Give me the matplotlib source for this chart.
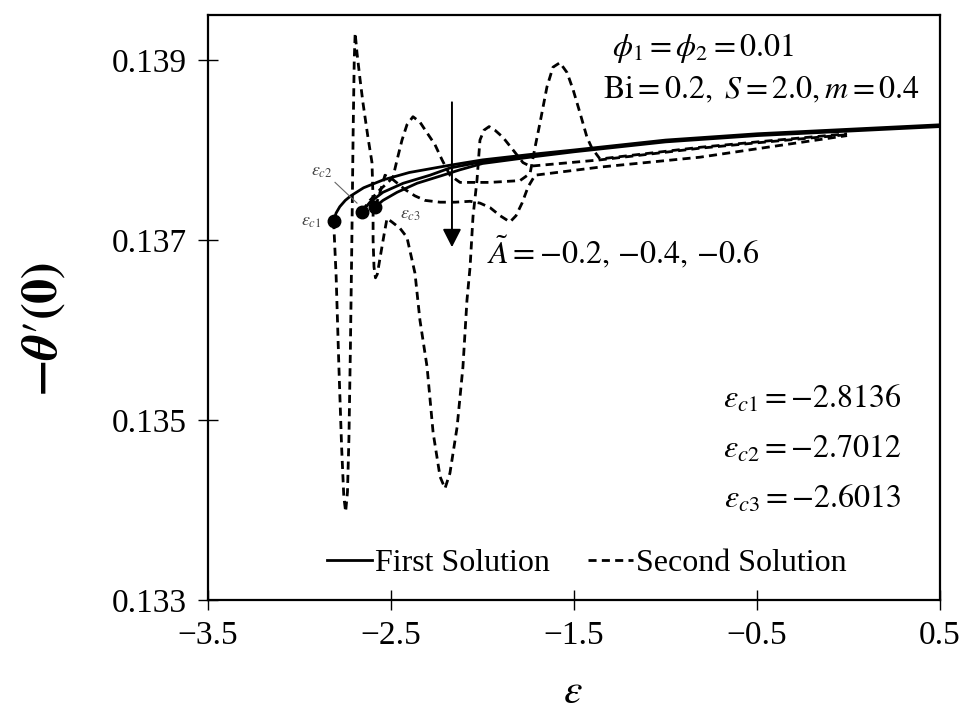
import matplotlib

matplotlib.use("Agg")
import matplotlib.pyplot as plt

plt.rcParams['font.family'] = ['Liberation Serif', 'DejaVu Serif']
plt.rcParams['mathtext.fontset'] = 'stix'

# First solution (three A~ values)
eps_first_1 = [-2.8136, -2.80, -2.78, -2.75, -2.72, -2.65, -2.54, -2.40, -2.18, -2.0, -1.74, -1.5, -1.0, -0.5, 0.0, 0.5]
theta_first_1 = [0.13721, 0.13730, 0.13737, 0.13744, 0.13749, 0.13758, 0.13767, 0.13775, 0.13783, 0.13789,
                 0.13795, 0.13800, 0.13811, 0.13818, 0.13823, 0.13828]
eps_first_2 = [-2.66, -2.615, -2.544, -2.434, -2.287, -2.178, -2.0, -1.74, -1.5, -1.0, -0.5, 0.0, 0.5]
theta_first_2 = [0.13731, 0.13742, 0.13753, 0.13763, 0.13772, 0.13780, 0.13787, 0.13794, 0.13799, 0.13810,
                 0.13817, 0.13822, 0.13827]
eps_first_3 = [-2.585, -2.544, -2.467, -2.358, -2.216, -2.123, -2.0, -1.74, -1.5, -1.0, -0.5, 0.0, 0.5]
theta_first_3 = [0.13737, 0.13744, 0.13753, 0.13763, 0.13772, 0.13778, 0.13785, 0.13792, 0.13798, 0.13809,
                 0.13816, 0.13821, 0.13826]

# Second solution (oscillating branches)
eps_second_1 = [-2.8136, -2.800, -2.785, -2.770, -2.758, -2.748, -2.738, -2.730, -2.722, -2.714, -2.707, -2.701,
                -2.696, -2.686, -2.669, -2.653, -2.626, -2.604, -2.598, -2.598, -2.593, -2.585, -2.575, -2.560,
                -2.538, -2.522, -2.495, -2.451, -2.413, -2.369, -2.342, -2.303, -2.270, -2.232, -2.205, -2.178,
                -2.139, -2.107, -2.085, -2.068, -2.052, -2.030, -2.014, -1.992, -1.964, -1.932, -1.888, -1.833,
                -1.779, -1.740, -1.358, -0.811, -0.445, -0.008]
theta_second_1 = [0.13721, 0.13660, 0.13560, 0.13470, 0.13415, 0.13398, 0.13420, 0.13480, 0.13580, 0.13700,
                  0.13820, 0.13900, 0.13930, 0.13908, 0.13878, 0.13852, 0.13814, 0.13786, 0.13744, 0.13700,
                  0.13670, 0.13658, 0.13662, 0.13680, 0.13706, 0.13724, 0.13720, 0.13713, 0.13703, 0.13663,
                  0.13611, 0.13559, 0.13486, 0.13437, 0.13424, 0.13441, 0.13492, 0.13559, 0.13633, 0.13670,
                  0.13726, 0.13767, 0.13811, 0.13822, 0.13826, 0.13822, 0.13814, 0.13800, 0.13786, 0.13782,
                  0.13789, 0.13802, 0.13809, 0.13817]
eps_second_2 = [-2.66, -2.615, -2.560, -2.516, -2.489, -2.467, -2.440, -2.413, -2.380, -2.342, -2.303, -2.260,
                -2.221, -2.178, -2.123, -1.959, -1.795, -1.740, -1.713, -1.686, -1.648, -1.615, -1.577, -1.538,
                -1.505, -1.467, -1.429, -1.402, -1.358, -0.811, -0.445, -0.008]
theta_second_2 = [0.13732, 0.13744, 0.13756, 0.13764, 0.13770, 0.13789, 0.13811, 0.13828, 0.13837, 0.13831,
                  0.13819, 0.13806, 0.13789, 0.13772, 0.13764, 0.13764, 0.13766, 0.13774, 0.13803, 0.13830,
                  0.13870, 0.13892, 0.13897, 0.13886, 0.13867, 0.13841, 0.13814, 0.13802, 0.13790, 0.13803,
                  0.13810, 0.13818]
eps_second_3 = [-2.585, -2.560, -2.533, -2.489, -2.423, -2.369, -2.314, -2.232, -2.150, -2.068, -2.014, -1.959,
                -1.904, -1.850, -1.817, -1.784, -1.751, -1.713, -1.358, -0.811, -0.445, -0.008]
theta_second_3 = [0.13737, 0.13753, 0.13772, 0.13767, 0.13756, 0.13749, 0.13744, 0.13742, 0.13742, 0.13743,
                  0.13741, 0.13736, 0.13727, 0.13720, 0.13727, 0.13741, 0.13759, 0.13772, 0.13781, 0.13792,
                  0.13803, 0.13816]

# Critical points
eps_crit = [-2.8136, -2.66, -2.585]
theta_crit = [0.13721, 0.13731, 0.13737]
crit_values = ["-2.8136", "-2.7012", "-2.6013"]

x_ticks = [-3.5, -2.5, -1.5, -0.5, 0.5]
y_ticks = [0.133, 0.135, 0.137, 0.139]

fig = plt.figure(figsize=(9.64, 7.10), dpi=100)
ax = fig.add_axes([0.2158, 0.1549, 0.7593, 0.8240])

dash = (0, (2.9, 1.9))
ax.plot(eps_first_1, theta_first_1, color='k', lw=2.0, label='First Solution')
ax.plot(eps_first_2, theta_first_2, color='k', lw=2.0)
ax.plot(eps_first_3, theta_first_3, color='k', lw=2.0)
ax.plot(eps_second_1, theta_second_1, color='k', lw=2.0, ls=dash, label='Second Solution')
ax.plot(eps_second_2, theta_second_2, color='k', lw=2.0, ls=dash)
ax.plot(eps_second_3, theta_second_3, color='k', lw=2.0, ls=dash)
ax.plot(eps_crit, theta_crit, 'o', color='k', ms=9)

ax.set_xlim(-3.5, 0.5)
ax.set_ylim(0.133, 0.1395)
ax.set_xticks(x_ticks)
ax.set_xticklabels([f"{v:g}".replace("-", "\u2212") for v in x_ticks])
ax.set_yticks(y_ticks)
ax.set_yticklabels([f"{v:.3f}" for v in y_ticks])
ax.tick_params(direction='inout', length=14, width=1, labelsize=24)
ax.tick_params(axis='x', pad=8)
ax.tick_params(axis='y', pad=8)
for s in ax.spines.values():
    s.set_linewidth(1.6)

ax.set_xlabel(r'$\varepsilon$', fontsize=30)
ax.xaxis.set_label_coords(0.499, -0.125)
ax.set_ylabel(r"$\mathbf{-}\mathbfit{\theta}\prime\mathbf{(0)}$", fontsize=36)
ax.yaxis.set_label_coords(-0.19, 0.462)

# annotations
ax.text(-1.292, 0.13913, r'$\phi_1=\phi_2=0.01$', fontsize=23, va='center', ha='left')
ax.text(-1.342, 0.13866, r'$\mathrm{Bi}=0.2,\ S=2.0, m=0.4$', fontsize=23, va='center', ha='left')
ax.text(-1.975, 0.13687, r'$\tilde{A}=-0.2,\,{-}0.4,\,{-}0.6$', fontsize=23, va='center', ha='left')
ax.annotate('', xy=(-2.167, 0.13692), xytext=(-2.167, 0.13853),
            arrowprops=dict(arrowstyle='-|>,head_length=0.55,head_width=0.28', color='k', lw=1.4,
                            mutation_scale=20, shrinkA=0, shrinkB=0))

for i, (yv, val) in enumerate(zip([0.13523, 0.13468, 0.13412], crit_values)):
    ax.text(0.292, yv, r'$\varepsilon_{c%d}=%s$' % (i + 1, val), fontsize=23, va='center', ha='right')

ax.text(-2.937, 0.13721, r'$\varepsilon_{c1}$', fontsize=13, color='#444444', ha='center', va='center')
ax.text(-2.877, 0.13776, r'$\varepsilon_{c2}$', fontsize=13, color='#444444', ha='center', va='center')
ax.text(-2.396, 0.13728, r'$\varepsilon_{c3}$', fontsize=13, color='#444444', ha='center', va='center')
ax.plot([-2.806, -2.686], [0.13764, 0.13741], color='#666666', lw=0.8)

ax.legend(loc='center', bbox_to_anchor=(0.518, 0.063), ncol=2, frameon=False, fontsize=23,
          handlelength=1.4, handletextpad=0.1, columnspacing=1.2, borderpad=0)

fig.savefig("out.png", dpi=100)
